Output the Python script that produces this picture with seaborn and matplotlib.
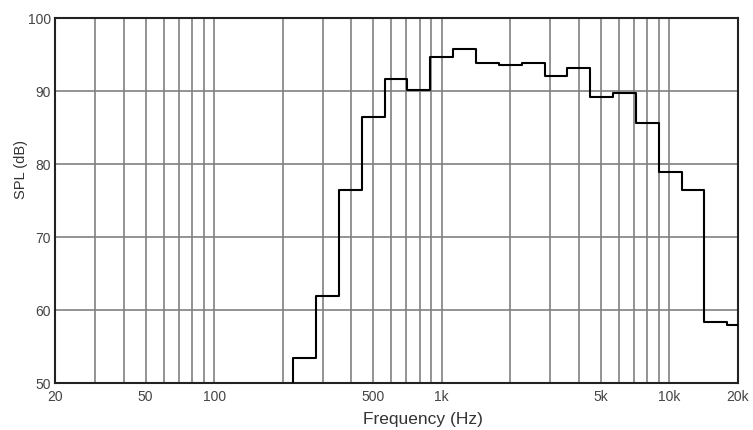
import numpy as np
import matplotlib
matplotlib.use("Agg")
import matplotlib.pyplot as plt
import matplotlib.ticker as mticker
import seaborn as sns

# 1/3-octave band centres (Hz) and measured SPL (dB)
band_centres = [250, 315, 400, 500, 630, 800, 1000, 1250, 1600, 2000, 2500,
                3150, 4000, 5000, 6300, 8000, 10000, 12500, 16000, 20000]
spl_db = [53.4, 62.0, 76.4, 86.5, 91.7, 90.1, 94.7, 95.8, 93.8, 93.6, 93.8,
          92.0, 93.1, 89.2, 89.7, 85.6, 78.9, 76.4, 58.4, 57.9]

x_ticks = [20, 50, 100, 500, 1000, 5000, 10000, 20000]
x_tick_labels = ["20", "50", "100", "500", "1k", "5k", "10k", "20k"]
y_ticks = [50, 60, 70, 80, 90, 100]

sns.set_style("white")
plt.rcParams["font.family"] = ["Liberation Sans", "DejaVu Sans"]

# band edges from exact 1/3-octave centres
exact = 1000 * 2.0 ** (np.round(np.log2(np.array(band_centres) / 1000) * 3) / 3)
edges = list(exact * 2 ** (-1 / 6)) + [exact[-1] * 2 ** (1 / 6)]
xs = [edges[0]] + edges
ys = [50] + spl_db + [spl_db[-1]]

fig = plt.figure(figsize=(7.53, 4.30), dpi=100)
ax = fig.add_axes([0.073, 0.109, 0.907, 0.849])

sns.lineplot(x=xs, y=ys, drawstyle="steps-post", color="black",
             linewidth=1.5, ax=ax, zorder=3, estimator=None, sort=False,
             errorbar=None)

ax.set_xscale("log")
ax.set_xlim(20, 20000)
ax.set_ylim(50, 100)
ax.xaxis.set_minor_locator(mticker.LogLocator(base=10, subs=np.arange(1, 10)))
ax.xaxis.set_minor_formatter(mticker.NullFormatter())
ax.set_xticks(x_ticks)
ax.set_xticklabels(x_tick_labels)
ax.set_yticks(y_ticks)

ax.grid(True, which="both", axis="x", color="#808080", linewidth=1.2)
ax.grid(True, which="major", axis="y", color="#808080", linewidth=1.2)
ax.set_axisbelow(True)

for s in ax.spines.values():
    s.set_color("#222222")
    s.set_linewidth(1.5)

ax.tick_params(axis="both", which="both", length=0, labelsize=10,
               labelcolor="#444444")
ax.tick_params(axis="x", pad=5)
ax.tick_params(axis="y", pad=3)

ax.set_xlabel("Frequency (Hz)", fontsize=12.5, color="#333333")
ax.set_ylabel("SPL (dB)", fontsize=10.5, color="#333333")
ax.xaxis.set_label_coords(0.539, -0.079)
ax.yaxis.set_label_coords(-0.04, 0.584)

fig.savefig("out.png", dpi=100)
